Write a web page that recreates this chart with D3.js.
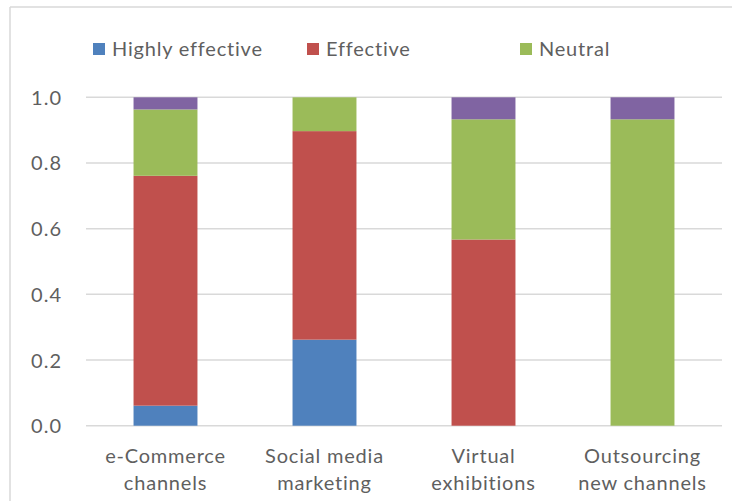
<!DOCTYPE html>
<html>
<head>
<meta charset="utf-8">
<script src="https://cdn.jsdelivr.net/npm/d3@7"></script>
<style>
  html, body { margin: 0; padding: 0; background: #fff; }
  svg { display: block; }
  text { font-family: Lato, "Open Sans", sans-serif; fill: #5f5f5f; }
</style>
</head>
<body>
<svg id="chart" width="732" height="501"></svg>
<script>
// Channels surveyed
const categories = [
  ["e-Commerce", "channels"],
  ["Social media", "marketing"],
  ["Virtual", "exhibitions"],
  ["Outsourcing", "new channels"]
];
const categoryKeys = categories.map(c => c.join(" "));

// Share of responses per rating (stacked bottom to top)
const seriesNames = ["Highly effective", "Effective", "Neutral", "Ineffective"];
const highlyEffective = [0.061, 0.262, 0.000, 0.000];
const effective       = [0.700, 0.635, 0.567, 0.000];
const neutral         = [0.202, 0.103, 0.366, 0.933];
const ineffective     = [0.037, 0.000, 0.067, 0.067];
const seriesValues = [highlyEffective, effective, neutral, ineffective];
const seriesColors = ["#4f81bd", "#c0504d", "#9bbb59", "#8064a2"];

const yTicks = [0, 0.2, 0.4, 0.6, 0.8, 1.0];
const legendSeries = seriesNames.slice(0, 3);

const rows = categoryKeys.map((key, i) => {
  const r = { key };
  seriesNames.forEach((s, j) => { r[s] = seriesValues[j][i]; });
  return r;
});

const svg = d3.select("#chart");
const W = 732, H = 501;
const plot = { left: 86, right: 722, top: 97.3, bottom: 425.7 };
const FONT = 20, SPACING = "0.8px";

// Chart frame (top and left edges)
svg.append("line").attr("x1", 10).attr("x2", W).attr("y1", 7).attr("y2", 7)
  .attr("stroke", "#d9d9d9").attr("stroke-width", 1.5);
svg.append("line").attr("x1", 10).attr("x2", 10).attr("y1", 7).attr("y2", H)
  .attr("stroke", "#d9d9d9").attr("stroke-width", 1.5);

const x = d3.scaleBand()
  .domain(categoryKeys)
  .range([plot.left, plot.right])
  .paddingInner(0.598)
  .paddingOuter(0.299);

const y = d3.scaleLinear().domain([0, 1]).range([plot.bottom, plot.top]);

const color = d3.scaleOrdinal().domain(seriesNames).range(seriesColors);

// Gridlines
svg.append("g")
  .selectAll("line")
  .data(yTicks)
  .join("line")
  .attr("x1", plot.left).attr("x2", plot.right)
  .attr("y1", d => y(d)).attr("y2", d => y(d))
  .attr("stroke", "#d9d9d9").attr("stroke-width", 1.5);

// Y axis labels
const yAxis = d3.axisLeft(y).tickValues(yTicks).tickFormat(d3.format(".1f")).tickSize(0).tickPadding(0);
const yg = svg.append("g").attr("transform", `translate(62,0)`).call(yAxis);
yg.select(".domain").remove();
yg.selectAll("text")
  .attr("font-family", "Lato, sans-serif")
  .attr("font-size", FONT)
  .attr("letter-spacing", "1px")
  .attr("fill", "#5f5f5f")
  .attr("dy", "0.35em");

// Stacked bars
const stack = d3.stack().keys(seriesNames);
const layers = stack(rows);

svg.append("g")
  .selectAll("g")
  .data(layers)
  .join("g")
  .attr("fill", d => color(d.key))
  .selectAll("rect")
  .data(d => d)
  .join("rect")
  .attr("x", d => x(d.data.key))
  .attr("width", x.bandwidth())
  .attr("y", d => y(d[1]))
  .attr("height", d => Math.max(0, y(d[0]) - y(d[1])));

// Category labels (two lines each)
const xl = svg.append("g");
categories.forEach((lines, i) => {
  const cx = x(categoryKeys[i]) + x.bandwidth() / 2;
  const t = xl.append("text")
    .attr("text-anchor", "middle")
    .attr("font-size", FONT)
    .attr("letter-spacing", SPACING);
  lines.forEach((ln, k) => {
    t.append("tspan").attr("x", cx).attr("y", 463 + k * 27).text(ln);
  });
});

// Legend
const legendX = [93, 307, 520];
const lg = svg.append("g");
legendSeries.forEach((s, i) => {
  lg.append("rect")
    .attr("x", legendX[i]).attr("y", 43)
    .attr("width", 12).attr("height", 12)
    .attr("fill", color(s));
  lg.append("text")
    .attr("x", legendX[i] + 19).attr("y", 49)
    .attr("dy", "0.35em")
    .attr("font-size", FONT)
    .attr("letter-spacing", SPACING)
    .text(s);
});
</script>
</body>
</html>
